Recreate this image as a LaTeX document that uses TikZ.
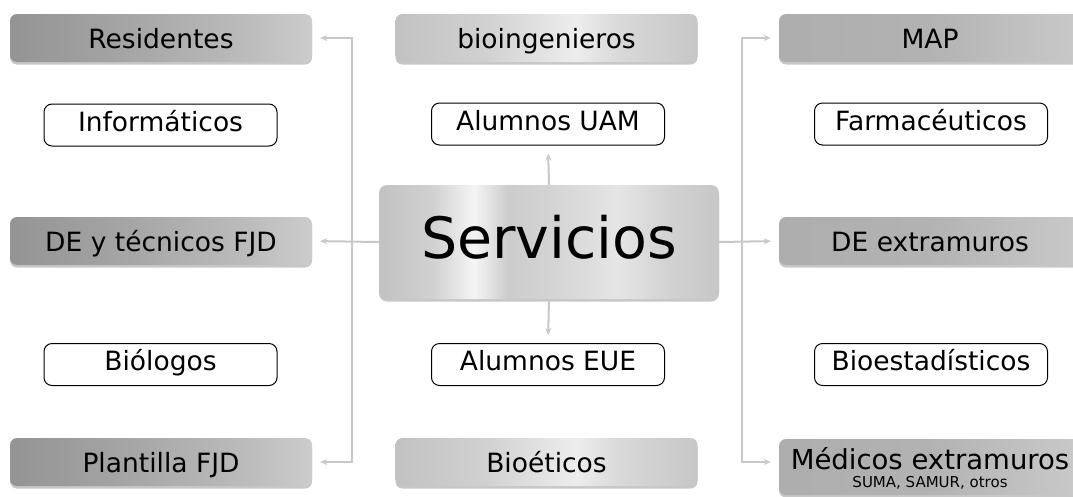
\documentclass[tikz,border=0pt]{standalone}
\usepackage{fontspec}
\setmainfont{DejaVu Sans}
\usetikzlibrary{shadows,arrows.meta}
\definecolor{lnc}{HTML}{C8C8C8}
\pgfdeclarehorizontalshading{metalL}{100bp}{color(0bp)=(black!42); color(25bp)=(black!42); color(45bp)=(black!35); color(65bp)=(black!26); color(75bp)=(black!20); color(100bp)=(black!20)}
\pgfdeclarehorizontalshading{metalM}{100bp}{color(0bp)=(black!24); color(25bp)=(black!24); color(40bp)=(black!18); color(55bp)=(black!7); color(62bp)=(black!15); color(75bp)=(black!22); color(100bp)=(black!22)}
\pgfdeclarehorizontalshading{metalR}{100bp}{color(0bp)=(black!32); color(25bp)=(black!32); color(50bp)=(black!30); color(75bp)=(black!21); color(100bp)=(black!21)}
\pgfdeclarehorizontalshading{metalS}{100bp}{color(0bp)=(black!24); color(25bp)=(black!24); color(33bp)=(black!18); color(39bp)=(black!4); color(44bp)=(black!20); color(52bp)=(black!16); color(60bp)=(black!10); color(68bp)=(black!18); color(75bp)=(black!22); color(100bp)=(black!22)}
\tikzset{
  softshadow/.style={drop shadow={shadow xshift=0pt, shadow yshift=-2.5pt, opacity=0.22, fill=black}},
  gbox/.style={rounded corners=7pt, minimum width=302pt, minimum height=48pt, inner sep=0pt,
    font=\fontsize{26.5}{32}\selectfont, text height=20pt, text depth=0pt, softshadow},
  lbox/.style={gbox, shading=metalL},
  mbox/.style={gbox, shading=metalM},
  rbox/.style={gbox, shading=metalR},
  wbox/.style={draw=black, line width=1pt, fill=white, rounded corners=8pt, minimum width=233pt,
    minimum height=42pt, inner sep=0pt, font=\fontsize{26.5}{32}\selectfont, text height=19pt, text depth=7pt},
  sbox/.style={rounded corners=8pt, minimum width=340pt, minimum height=114pt, inner sep=0pt,
    shading=metalS, font=\fontsize{57}{64}\selectfont, text height=40pt, text depth=8pt, softshadow},
  conn/.style={draw=lnc, line width=2pt},
  arr/.style={conn, -{Stealth[length=7pt,width=6pt]}, shorten >=8pt}
}
\begin{document}
\begin{tikzpicture}[x=1pt,y=-1pt]
\useasboundingbox (0,0) rectangle (1073,496);
\clip (0,0) rectangle (1073,496);
% gray boxes
\node[lbox] (res) at (161,38) {Residentes};
\node[lbox] (det) at (161,241) {DE y técnicos FJD};
\node[lbox] (pla) at (161,462) {Plantilla FJD};
\node[mbox] (bio) at (546.5,38) {bioingenieros};
\node[mbox] (bet) at (546.5,462) {Bioéticos};
\node[rbox] (map) at (930,38) {MAP};
\node[rbox] (dex) at (930,241) {DE extramuros};
\node[rbox, minimum height=56pt, text height=4pt, text depth=0pt] (med) at (930,467) {\begin{tabular}[t]{@{}c@{}}\fontsize{27.5}{33}\selectfont Médicos extramuros\\[-14pt]\fontsize{15}{18}\selectfont SUMA, SAMUR, otros\end{tabular}};
% white boxes
\node[wbox] (inf) at (160.5,125) {Informáticos};
\node[wbox] (uam) at (548,124) {Alumnos UAM};
\node[wbox] (far) at (931,124) {Farmacéuticos};
\node[wbox] (bil) at (160.5,364.5) {Biólogos};
\node[wbox] (eue) at (548,364.5) {Alumnos EUE};
\node[wbox] (bes) at (931,364.5) {Bioestadísticos};
% central
\node[sbox] (ser) at (549,242) {Servicios};
% connectors
\coordinate (lj) at (352,241);
\coordinate (rj) at (742,241);
\draw[arr] (ser.west) -- (det.east);
\draw[arr] (lj) |- (res.east);
\draw[arr] (lj) |- (pla.east);
\draw[arr] (ser.east) -- (dex.west);
\draw[arr] (rj) |- (map.west);
\draw[arr] (rj) |- ([yshift=5pt]med.west);
\draw[arr] (ser.north) -- (uam.south);
\draw[arr] (ser.south) -- (eue.north);
\end{tikzpicture}
\end{document}
